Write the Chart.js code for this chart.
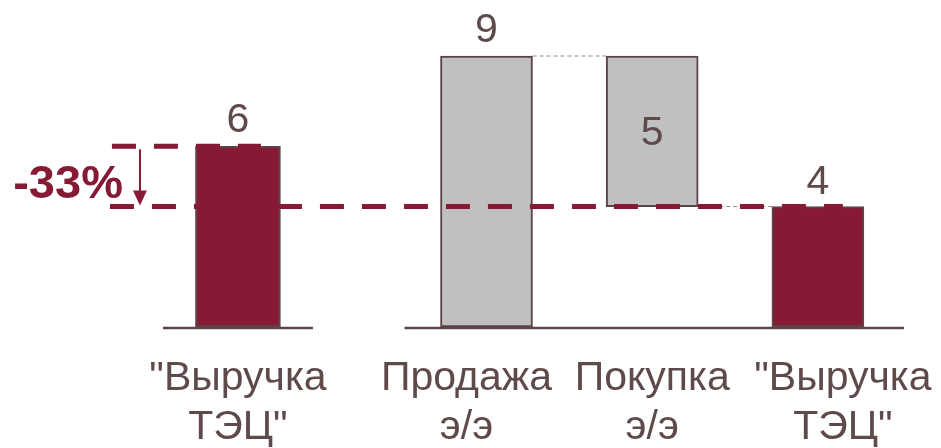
<!DOCTYPE html>
<html lang="ru">
<head>
<meta charset="utf-8">
<title>Выручка ТЭЦ</title>
<script src="https://cdn.jsdelivr.net/npm/chart.js@4/dist/chart.umd.min.js"></script>
<style>
  html, body { margin: 0; padding: 0; background: #fff; }
  #wrap { width: 941px; height: 448px; position: relative; }
</style>
</head>
<body>
<div id="wrap"><canvas id="chart"></canvas></div>
<script>
// Waterfall data
const categories = [['"Выручка', 'ТЭЦ"'], ['Продажа', 'э/э'], ['Покупка', 'э/э'], ['"Выручка', 'ТЭЦ"']];
const values = [6, 9, 5, 4];

// where each column sits on the x axis (gap after the first one)
const slots = [0, 1.5, 2.5, 3.5];

const RED = '#861A35';
const GRAY = '#C0C0C0';
const EDGE = '#5C4346';
const TEXT = '#5F4A4B';
const FONT = '"Liberation Sans", Arial, sans-serif';

// change between first and last column
const change = Math.round((values[3] - values[0]) / values[0] * 100) + '%';

const marks = {
  id: 'marks',
  afterDatasetsDraw(chart) {
    const ctx = chart.ctx;
    const y = chart.scales.y;
    const b1 = chart.getDatasetMeta(0).data[0];
    const g = chart.getDatasetMeta(1).data;
    const b4 = chart.getDatasetMeta(2).data[0];
    const bars = [b1, g[0], g[1], b4];
    const y0 = y.getPixelForValue(0);
    const yFirst = y.getPixelForValue(values[0]);
    const yLast = y.getPixelForValue(values[3]);
    const yTop = y.getPixelForValue(values[1]);

    ctx.save();

    // thin connectors between gray columns and the last one
    ctx.strokeStyle = '#8C8C8C';
    ctx.lineWidth = 1;
    ctx.setLineDash([4, 3]);
    ctx.beginPath();
    ctx.moveTo(g[0].x + g[0].width / 2, yTop);
    ctx.lineTo(g[1].x - g[1].width / 2, yTop);
    ctx.moveTo(g[1].x + g[1].width / 2, yLast);
    ctx.lineTo(b4.x - b4.width / 2, yLast);
    ctx.stroke();

    // red guide lines at the first and last level
    const left = b1.x - 126;
    ctx.strokeStyle = RED;
    ctx.lineWidth = 5;
    ctx.setLineDash([24, 18]);
    ctx.beginPath();
    ctx.moveTo(left, yFirst);
    ctx.lineTo(b1.x + 23, yFirst);
    ctx.stroke();
    ctx.beginPath();
    ctx.moveTo(left - 2, yLast);
    ctx.lineTo(b4.x + 25, yLast);
    ctx.stroke();
    ctx.setLineDash([]);

    // arrow down
    const ax = b1.x - 98;
    ctx.strokeStyle = RED;
    ctx.fillStyle = RED;
    ctx.lineWidth = 2;
    ctx.beginPath();
    ctx.moveTo(ax, yFirst + 3);
    ctx.lineTo(ax, yLast - 12);
    ctx.stroke();
    ctx.beginPath();
    ctx.moveTo(ax - 7, yLast - 16);
    ctx.lineTo(ax + 7, yLast - 16);
    ctx.lineTo(ax, yLast - 1);
    ctx.closePath();
    ctx.fill();

    ctx.font = 'bold 47px ' + FONT;
    ctx.textAlign = 'right';
    ctx.textBaseline = 'alphabetic';
    ctx.fillText(change, ax - 17, yLast - 9);

    // base lines
    ctx.strokeStyle = EDGE;
    ctx.lineWidth = 2.5;
    ctx.beginPath();
    ctx.moveTo(b1.x - 75, y0 + 1);
    ctx.lineTo(b1.x + 75, y0 + 1);
    ctx.moveTo(g[0].x - 82, y0 + 1);
    ctx.lineTo(b4.x + 86, y0 + 1);
    ctx.stroke();

    // value labels
    ctx.fillStyle = TEXT;
    ctx.font = '41px ' + FONT;
    ctx.textAlign = 'center';
    ctx.fillText(values[0], b1.x, yFirst - 14);
    ctx.fillText(values[1], g[0].x, yTop - 14);
    ctx.textBaseline = 'middle';
    ctx.fillText(values[2], g[1].x, (yTop + yLast) / 2 + 2);
    ctx.textBaseline = 'alphabetic';
    ctx.fillText(values[3], b4.x, yLast - 13);

    // category labels
    const shift = [0, -20, 0, 25];
    categories.forEach((lines, i) => {
      lines.forEach((t, j) => {
        ctx.fillText(t, bars[i].x + shift[i], y0 + 63 + j * 49);
      });
    });

    ctx.restore();
  }
};

const barStyle = {
  borderColor: EDGE,
  borderWidth: 2,
  borderSkipped: false,
  grouped: false,
  order: 2,
  clip: false
};

new Chart(document.getElementById('chart'), {
  type: 'bar',
  data: {
    datasets: [
      Object.assign({
        label: categories[0].join(' '),
        data: [{ x: slots[0], y: [0, values[0]] }],
        backgroundColor: RED,
        barThickness: 85
      }, barStyle),
      Object.assign({
        label: 'Продажа / покупка э/э',
        data: [
          { x: slots[1], y: [0, values[1]] },
          { x: slots[2], y: [values[1] - values[2], values[1]] }
        ],
        backgroundColor: GRAY,
        barThickness: 92
      }, barStyle),
      Object.assign({
        label: categories[3].join(' '),
        data: [{ x: slots[3], y: [0, values[3]] }],
        backgroundColor: RED,
        barThickness: 92
      }, barStyle)
    ]
  },
  options: {
    responsive: true,
    maintainAspectRatio: false,
    animation: false,
    layout: { padding: { top: 56, bottom: 121, left: 0, right: 0 } },
    scales: {
      x: { type: 'linear', min: -1.436, max: 4.243, offset: false, display: false },
      y: { min: 0, max: 9, display: false }
    },
    plugins: {
      legend: { display: false },
      tooltip: { enabled: false }
    }
  },
  plugins: [marks]
});
</script>
</body>
</html>
